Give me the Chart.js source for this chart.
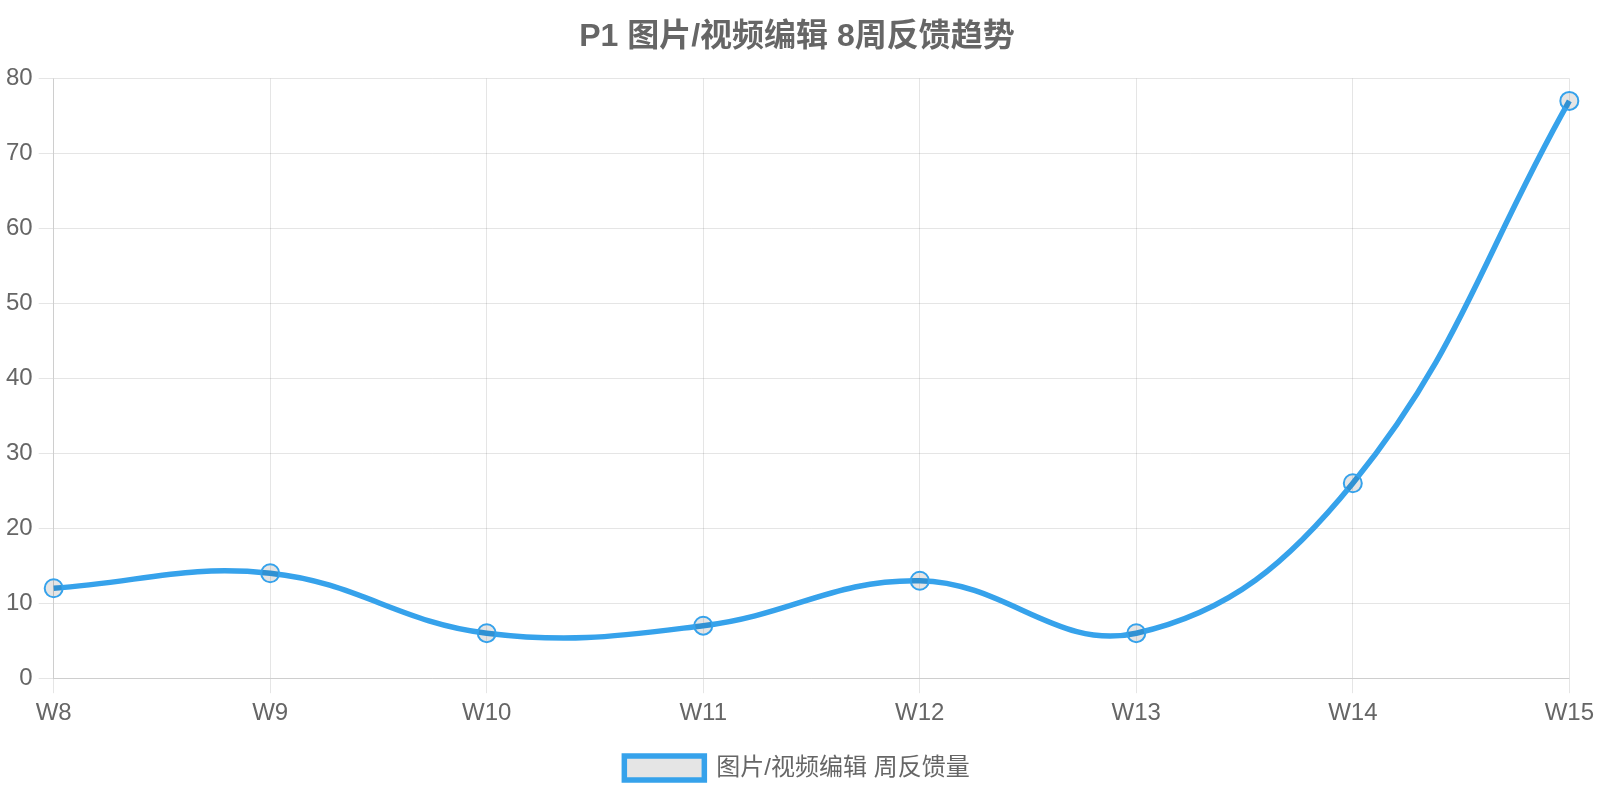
<!DOCTYPE html>
<html>
<head>
<meta charset="utf-8">
<script src="https://cdn.jsdelivr.net/npm/chart.js@4"></script>
<style>
    html, body { margin: 0; padding: 0; background: #fff; }
    #wrap { width: 1600px; height: 800px; position: relative; }
</style>
</head>
<body>
<div id="wrap"><canvas id="trend"></canvas></div>
<script>
    // Weekly feedback counts
    const weeks = ['W8', 'W9', 'W10', 'W11', 'W12', 'W13', 'W14', 'W15'];
    const feedback = [12, 14, 6, 7, 13, 6, 26, 77];

    Chart.defaults.font.family = "'Liberation Sans', Arial, 'Noto Sans CJK SC', sans-serif";
    Chart.defaults.color = '#666';

    new Chart(document.getElementById('trend'), {
        type: 'line',
        data: {
            labels: weeks,
            datasets: [{
                label: '图片/视频编辑 周反馈量',
                data: feedback,
                borderColor: '#36A2EB',
                backgroundColor: 'rgba(0,0,0,0.1)',
                borderWidth: 5.5,
                tension: 0.4,
                fill: false,
                pointRadius: 9,
                pointBorderWidth: 2,
                pointBorderColor: '#36A2EB',
                pointBackgroundColor: 'rgba(0,0,0,0.1)'
            }]
        },
        options: {
            responsive: true,
            maintainAspectRatio: false,
            animation: false,
            layout: { padding: { left: 0, right: 6, top: 0, bottom: 10 } },
            plugins: {
                title: {
                    display: true,
                    text: 'P1 图片/视频编辑 8周反馈趋势',
                    font: { size: 32, weight: 'bold' },
                    padding: { top: 18, bottom: 22 }
                },
                legend: {
                    position: 'bottom',
                    labels: {
                        boxWidth: 80,
                        boxHeight: 24,
                        font: { size: 24 },
                        padding: 22
                    }
                }
            },
            scales: {
                x: {
                    grid: { tickLength: 15 },
                    ticks: { font: { size: 24 }, padding: 6 }
                },
                y: {
                    min: 0,
                    max: 80,
                    grid: { tickLength: 15 },
                    ticks: { stepSize: 10, font: { size: 24 }, padding: 6 }
                }
            }
        }
    });
</script>
</body>
</html>
